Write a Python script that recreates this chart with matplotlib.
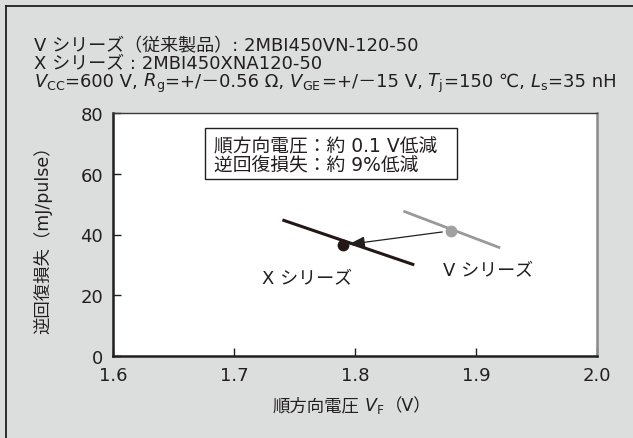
import matplotlib
matplotlib.use("Agg")
import matplotlib.pyplot as plt
from matplotlib.lines import Line2D
from matplotlib.patches import Rectangle
from matplotlib.offsetbox import TextArea, HPacker, AnnotationBbox

plt.rcParams['font.family'] = ['DejaVu Sans', 'Noto Sans CJK JP']
plt.rcParams['mathtext.fontset'] = 'dejavusans'
plt.rcParams['axes.unicode_minus'] = False

# Forward voltage VF (V) vs reverse recovery loss (mJ/pulse)
x_series_vf = [1.740, 1.849]
x_series_loss = [44.8, 30.0]
x_point = (1.790, 36.5)

v_series_vf = [1.840, 1.920]
v_series_loss = [47.7, 35.6]
v_point = (1.879, 41.2)

x_ticks = [1.6, 1.7, 1.8, 1.9, 2.0]
x_tick_labels = ["1.6", "1.7", "1.8", "1.9", "2.0"]
y_ticks = [0, 20, 40, 60, 80]
y_tick_labels = ["0", "20", "40", "60", "80"]

header_line1 = "V シリーズ（従来製品）: 2MBI450VN-120-50"
header_line2 = "X シリーズ : 2MBI450XNA120-50"
header_line3 = [r"$V_{\rm CC}$", "=600 V,", r"$\ R_{\rm g}$", "=+/－0.56 Ω,",
                r"$\ V_{\rm GE}$", "=+/－15 V,", r"$\ T_{\rm j}$", "=150 ℃,",
                r"$\ L_{\rm s}$", "=35 nH"]
x_label_parts = ["順方向電圧", r"$\ V_{\rm F}$", "（V）"]
y_label = "逆回復損失（mJ/pulse）"
note_lines = ["順方向電圧：約 0.1 V低減", "逆回復損失：約 9%低減"]
x_series_name = "X シリーズ"
v_series_name = "V シリーズ"

TXT = "#231f20"
BG = "#dcdedd"

W, H = 633, 439
fig = plt.figure(figsize=(W / 100, H / 100), dpi=100, facecolor=BG)


def rich_text(parts, xy, size, align_x=0.0):
    """Lay text pieces (plain and mathtext) side by side on one baseline."""
    children = [TextArea(p, textprops=dict(fontsize=size, color=TXT)) for p in parts]
    box = HPacker(children=children, align="baseline", pad=0, sep=0)
    ab = AnnotationBbox(box, xy, xycoords='figure fraction',
                        box_alignment=(align_x, 0.5), frameon=False, pad=0)
    fig.add_artist(ab)
    return ab


# frame lines along the top and left edge
fig.add_artist(Line2D([6 / W, 1], [1 - 7 / H, 1 - 7 / H], color=TXT, lw=1.3))
fig.add_artist(Line2D([6 / W, 6 / W], [0, 1 - 7 / H], color=TXT, lw=1.3))

fig.text(34 / W, 1 - 46 / H, header_line1, fontsize=13, color=TXT, va='center', ha='left')
fig.text(34 / W, 1 - 64 / H, header_line2, fontsize=13, color=TXT, va='center', ha='left')
rich_text(header_line3, (34 / W, 1 - 83 / H), 13)

ax = fig.add_axes([113 / W, 1 - 357 / H, (597 - 113) / W, (357 - 114) / H])
ax.set_facecolor("white")
ax.set_xlim(1.6, 2.0)
ax.set_ylim(0, 80)
ax.set_xticks(x_ticks)
ax.set_xticklabels(x_tick_labels)
ax.set_yticks(y_ticks)
ax.set_yticklabels(y_tick_labels)
ax.tick_params(direction='in', length=6, width=1.0, color=TXT,
               labelsize=13, labelcolor=TXT)
ax.tick_params(axis='x', pad=7)
ax.tick_params(axis='y', pad=7)

ax.spines['left'].set_linewidth(1.8)
ax.spines['bottom'].set_linewidth(1.8)
ax.spines['left'].set_color(TXT)
ax.spines['bottom'].set_color(TXT)
ax.spines['top'].set_linewidth(1.0)
ax.spines['top'].set_color("#3a3a3a")
ax.spines['right'].set_linewidth(1.8)
ax.spines['right'].set_color("#8a8a8a")

rich_text(x_label_parts, (352 / W, 1 - 406 / H), 12.5, align_x=0.5)
ax.set_ylabel(y_label, fontsize=12.5, color=TXT, labelpad=20)

# series lines and operating points
ax.plot(v_series_vf, v_series_loss, color="#999999", lw=2.0, solid_capstyle='butt')
ax.plot(*v_point, 'o', color="#a0a0a0", ms=8.5, mec="none")
ax.plot(x_series_vf, x_series_loss, color="#231815", lw=2.2, solid_capstyle='butt')
ax.plot(*x_point, 'o', color="#231815", ms=8.5, mec="none")

ax.annotate("", xy=x_point, xytext=v_point,
            arrowprops=dict(arrowstyle='-|>,head_length=1.0,head_width=0.35',
                            color=TXT, lw=0.9, shrinkA=6, shrinkB=4))

ax.text(1.723, 25.6, x_series_name, fontsize=13, color=TXT, ha='left', va='center')
ax.text(1.873, 28.4, v_series_name, fontsize=13, color=TXT, ha='left', va='center')

# summary box
ax.add_patch(Rectangle((0.190, 0.728), 0.521, 0.210, transform=ax.transAxes,
                       facecolor='white', edgecolor=TXT, lw=1.0))
for i, line in enumerate(note_lines):
    ax.text(0.209, 0.866 - 0.078 * i, line, transform=ax.transAxes,
            fontsize=13.5, color=TXT, ha='left', va='center')

fig.savefig("out.png", dpi=100, facecolor=BG)
